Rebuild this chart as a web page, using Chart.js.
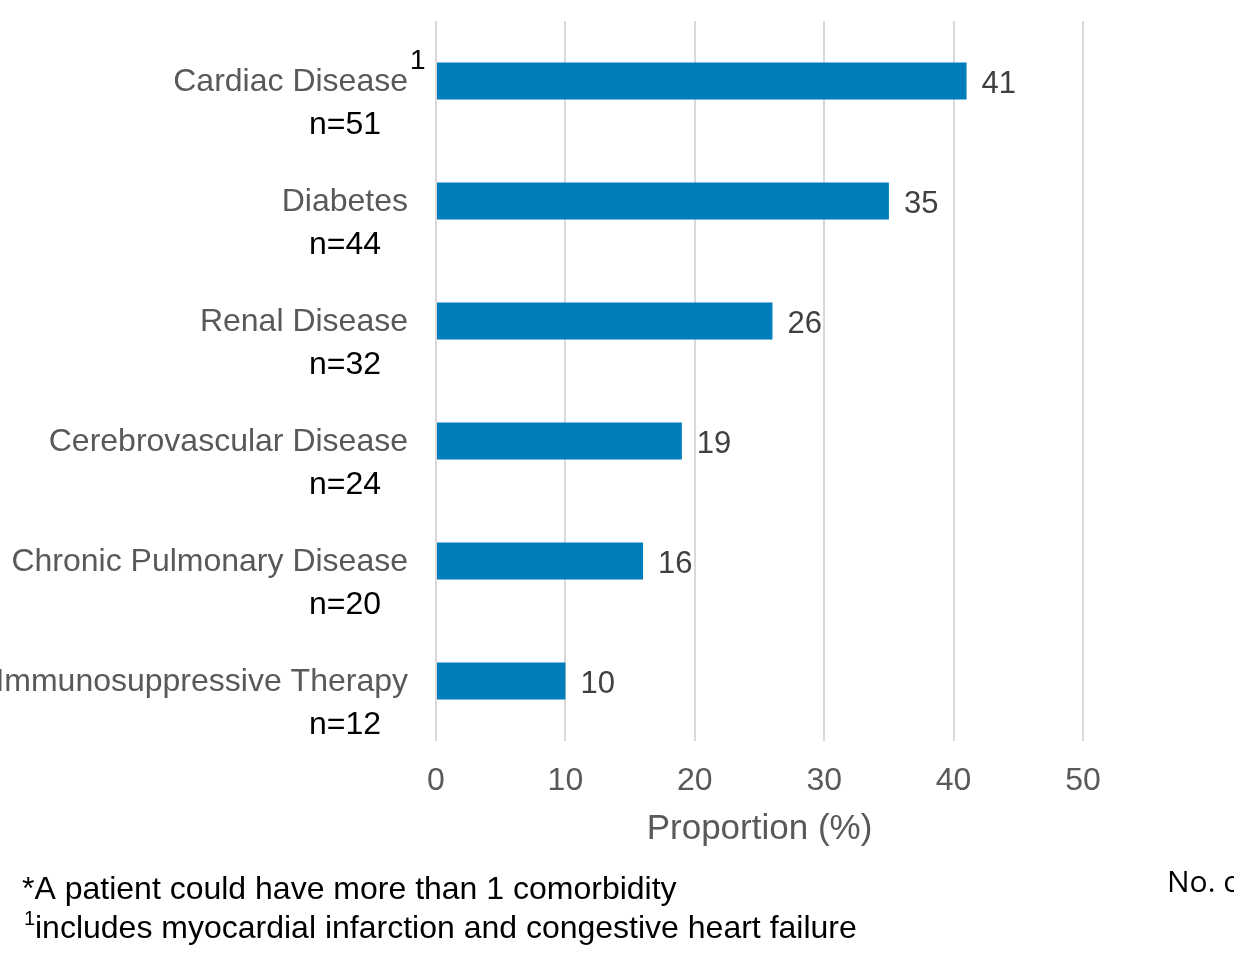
<!DOCTYPE html>
<html>
<head>
<meta charset="utf-8">
<script src="https://cdn.jsdelivr.net/npm/chart.js@4/dist/chart.umd.min.js"></script>
<style>
	html, body { margin: 0; padding: 0; background: #fff; }
	#wrap { width: 1234px; height: 954px; position: relative; }
</style>
</head>
<body>
<div id="wrap"><canvas id="chart"></canvas></div>
<script>
const categories = [
	"Cardiac Disease",
	"Diabetes",
	"Renal Disease",
	"Cerebrovascular Disease",
	"Chronic Pulmonary Disease",
	"Immunosuppressive Therapy",
];
const counts = [51, 44, 32, 24, 20, 12];
const proportions = [41, 35, 26, 19, 16, 10];
const xTicks = [0, 10, 20, 30, 40, 50];
const footnotes = [
	"*A patient could have more than 1 comorbidity",
	"includes myocardial infarction and congestive heart failure",
];

const FONT = "'Liberation Sans', Arial, sans-serif";
const GRAY = "#595959";

// draws n= lines, value labels, superscripts and footnotes
const extras = {
	id: "extras",
	afterDraw(chart) {
		const { ctx } = chart;
		const x = chart.scales.x;
		const y = chart.scales.y;
		ctx.save();
		ctx.textBaseline = "middle";

		ctx.font = `32px ${FONT}`;
		ctx.fillStyle = "#000";
		ctx.textAlign = "right";
		counts.forEach((n, i) => {
			ctx.fillText(`n=${n}`, 381, y.getPixelForValue(i) + 44);
		});

		ctx.font = `31px ${FONT}`;
		ctx.fillStyle = "#404040";
		ctx.textAlign = "left";
		proportions.forEach((v, i) => {
			ctx.fillText(String(v), x.getPixelForValue(v) + 15, y.getPixelForValue(i) + 3);
		});

		// superscript on first category
		ctx.fillStyle = "#000";
		ctx.font = `28px ${FONT}`;
		ctx.fillText("1", 410, y.getPixelForValue(0) - 20);

		// footnotes
		ctx.font = `32px ${FONT}`;
		ctx.fillText(footnotes[0], 22, 890);
		ctx.font = `20px ${FONT}`;
		ctx.fillText("1", 24, 919);
		ctx.font = `32px ${FONT}`;
		ctx.fillText(footnotes[1], 35, 929);

		ctx.font = `30px 'Open Sans', sans-serif`;
		ctx.fillText("No. of patients", 1167, 883);
		ctx.restore();
	},
};

new Chart(document.getElementById("chart"), {
	type: "bar",
	data: {
		labels: categories,
		datasets: [
			{
				data: proportions,
				backgroundColor: "#007dba",
				categoryPercentage: 1,
				barPercentage: 0.31,
			},
		],
	},
	options: {
		indexAxis: "y",
		responsive: true,
		maintainAspectRatio: false,
		animation: false,
		layout: { padding: { top: 21, right: 151, bottom: 0, left: 0 } },
		plugins: {
			legend: { display: false },
			tooltip: { enabled: false },
		},
		scales: {
			x: {
				min: 0,
				max: 50,
				afterBuildTicks(scale) {
					scale.ticks = xTicks.map((v) => ({ value: v }));
				},
				afterFit(scale) {
					scale.height = 213;
					scale.paddingLeft = 0;
					scale.paddingRight = 0;
				},
				grid: { color: "#d9d9d9", lineWidth: 2, drawTicks: false },
				border: { display: false },
				ticks: {
					color: GRAY,
					font: { family: FONT, size: 32 },
					padding: 21,
				},
				title: {
					display: true,
					text: "Proportion (%)",
					color: GRAY,
					font: { family: FONT, size: 35 },
					padding: { top: 0, bottom: 104 },
				},
			},
			y: {
				afterFit(scale) {
					scale.width = 436;
					scale.paddingTop = 0;
					scale.paddingBottom = 0;
				},
				grid: { display: false, drawTicks: false },
				border: { display: false },
				ticks: {
					color: GRAY,
					font: { family: FONT, size: 32 },
					padding: 28,
					labelOffset: 1,
				},
			},
		},
	},
	plugins: [extras],
});
</script>
</body>
</html>
